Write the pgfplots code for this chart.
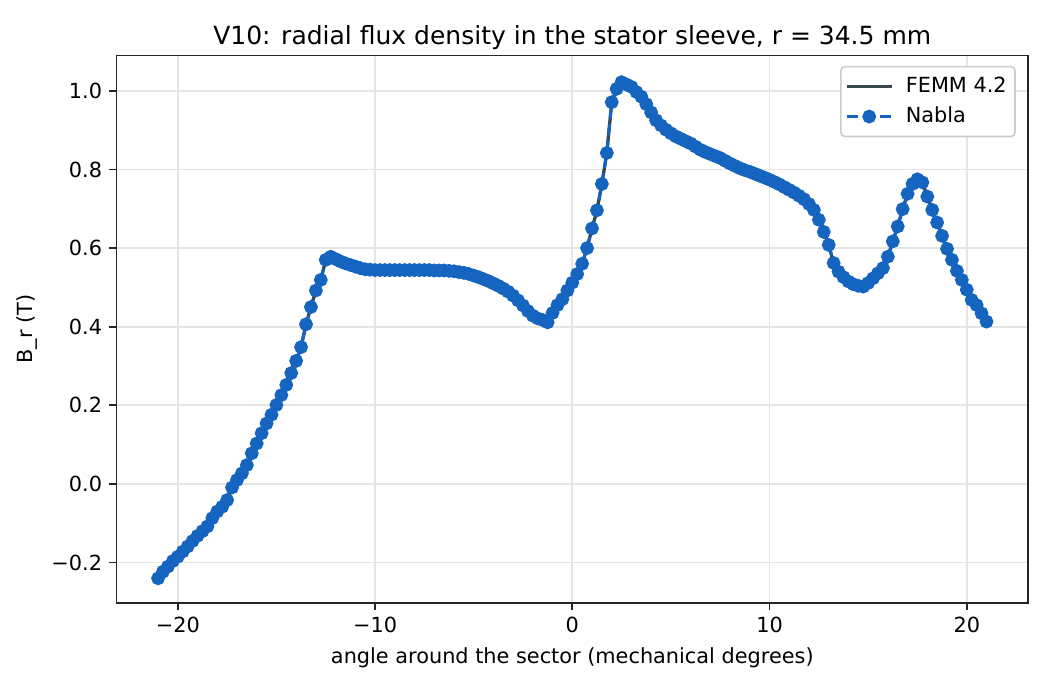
\documentclass[border=0pt]{standalone}
\usepackage{pgfplots}
\usepackage{pgfplotstable}
\pgfplotsset{compat=1.18}
\usepackage{fontspec}
\setmainfont{DejaVu Sans}
\definecolor{femm}{HTML}{37474F}
\definecolor{nabla}{HTML}{1565C0}
\definecolor{spine}{HTML}{262626}
\pgfplotstableread{
x y
-21.00 -0.240
-20.75 -0.223
-20.50 -0.210
-20.25 -0.196
-20.00 -0.185
-19.75 -0.172
-19.50 -0.159
-19.25 -0.145
-19.00 -0.132
-18.75 -0.120
-18.50 -0.108
-18.25 -0.087
-18.00 -0.070
-17.75 -0.058
-17.50 -0.041
-17.25 -0.009
-17.00 0.010
-16.75 0.027
-16.50 0.048
-16.25 0.078
-16.00 0.103
-15.75 0.129
-15.50 0.154
-15.25 0.176
-15.00 0.201
-14.75 0.226
-14.50 0.252
-14.25 0.282
-14.00 0.313
-13.75 0.348
-13.50 0.406
-13.25 0.450
-13.00 0.492
-12.75 0.519
-12.50 0.570
-12.25 0.578
-12.00 0.572
-11.75 0.566
-11.50 0.561
-11.25 0.557
-11.00 0.553
-10.75 0.549
-10.50 0.546
-10.25 0.545
-10.00 0.544
-9.75 0.544
-9.50 0.544
-9.25 0.544
-9.00 0.544
-8.75 0.544
-8.50 0.544
-8.25 0.544
-8.00 0.544
-7.75 0.544
-7.50 0.544
-7.25 0.544
-7.00 0.543
-6.75 0.543
-6.50 0.543
-6.25 0.542
-6.00 0.541
-5.75 0.539
-5.50 0.537
-5.25 0.534
-5.00 0.530
-4.75 0.526
-4.50 0.521
-4.25 0.516
-4.00 0.510
-3.75 0.504
-3.50 0.497
-3.25 0.489
-3.00 0.479
-2.75 0.467
-2.50 0.454
-2.25 0.440
-2.00 0.428
-1.75 0.421
-1.50 0.417
-1.25 0.411
-1.00 0.435
-0.75 0.455
-0.50 0.470
-0.25 0.492
0.00 0.512
0.25 0.534
0.50 0.560
0.75 0.600
1.00 0.650
1.25 0.696
1.50 0.763
1.75 0.842
2.00 0.971
2.25 1.005
2.50 1.022
2.75 1.016
3.00 1.010
3.25 0.997
3.50 0.985
3.75 0.966
4.00 0.945
4.25 0.925
4.50 0.912
4.75 0.901
5.00 0.892
5.25 0.884
5.50 0.878
5.75 0.872
6.00 0.866
6.25 0.858
6.50 0.850
6.75 0.844
7.00 0.839
7.25 0.834
7.50 0.829
7.75 0.822
8.00 0.815
8.25 0.809
8.50 0.803
8.75 0.798
9.00 0.794
9.25 0.789
9.50 0.784
9.75 0.779
10.00 0.774
10.25 0.768
10.50 0.762
10.75 0.755
11.00 0.748
11.25 0.741
11.50 0.733
11.75 0.724
12.00 0.712
12.25 0.697
12.50 0.672
12.75 0.641
13.00 0.608
13.25 0.562
13.50 0.540
13.75 0.526
14.00 0.515
14.25 0.508
14.50 0.504
14.75 0.502
15.00 0.511
15.25 0.523
15.50 0.536
15.75 0.549
16.00 0.578
16.25 0.617
16.50 0.655
16.75 0.699
17.00 0.738
17.25 0.763
17.50 0.775
17.75 0.767
18.00 0.731
18.25 0.697
18.50 0.665
18.75 0.631
19.00 0.598
19.25 0.570
19.50 0.542
19.75 0.519
20.00 0.494
20.25 0.468
20.50 0.455
20.75 0.434
21.00 0.413
}\brdata
\begin{document}
\begin{tikzpicture}
\path[use as bounding box] (-56pt,-41.9pt) rectangle (448pt,289.3pt);
\begin{axis}[
  at={(0,0)}, anchor=south west,
  scale only axis, width=437.4pt, height=262.7pt,
  xmin=-23.1, xmax=23.1, ymin=-0.302, ymax=1.090,
  xtick={-20,-10,0,10,20},
  xticklabels={−20,−10,0,10,20},
  ytick={-0.2,0,0.2,0.4,0.6,0.8,1.0},
  yticklabels={−0.2,0.0,0.2,0.4,0.6,0.8,1.0},
  tick align=outside, tick pos=lower,
  major tick length=3.5pt,
  every tick/.style={spine, line width=0.8pt},
  axis line style={spine, line width=0.8pt},
  grid=major,
  major grid style={black!10, line width=0.8pt},
  tick label style={font=\fontsize{10}{12}\selectfont, text=black},
  label style={font=\fontsize{10}{12}\selectfont, text=black},
  xlabel={angle around the sector (mechanical degrees)},
  ylabel={B\_r (T)},
  title={V10: radial flux density in the stator sleeve, r = 34.5 mm},
  title style={font=\fontsize{12}{14}\selectfont, yshift=-6.8pt},
  legend cell align=left,
  legend style={font=\fontsize{10}{12}\selectfont, draw=black!20, rounded corners=2pt, line width=0.8pt, inner xsep=2pt, inner ysep=3pt, row sep=1.5pt, column sep=4pt, at={(0.9868,0.981)}, anchor=north east},
  legend image code/.code={\draw[#1, mark repeat=2, mark phase=2] plot coordinates {(0pt,0pt) (10.8pt,0pt) (21.6pt,0pt)};},
]
\addplot[femm, line width=1.6pt] table[x=x,y=y] {\brdata};
\addlegendentry{FEMM 4.2}
\addplot[nabla, line width=1.4pt, dash pattern=on 5.5pt off 2.4pt, mark=*, mark size=2.6pt, mark options={solid, fill=nabla, draw=nabla}] table[x=x,y=y] {\brdata};
\addlegendentry{Nabla}
\end{axis}
\end{tikzpicture}
\end{document}
